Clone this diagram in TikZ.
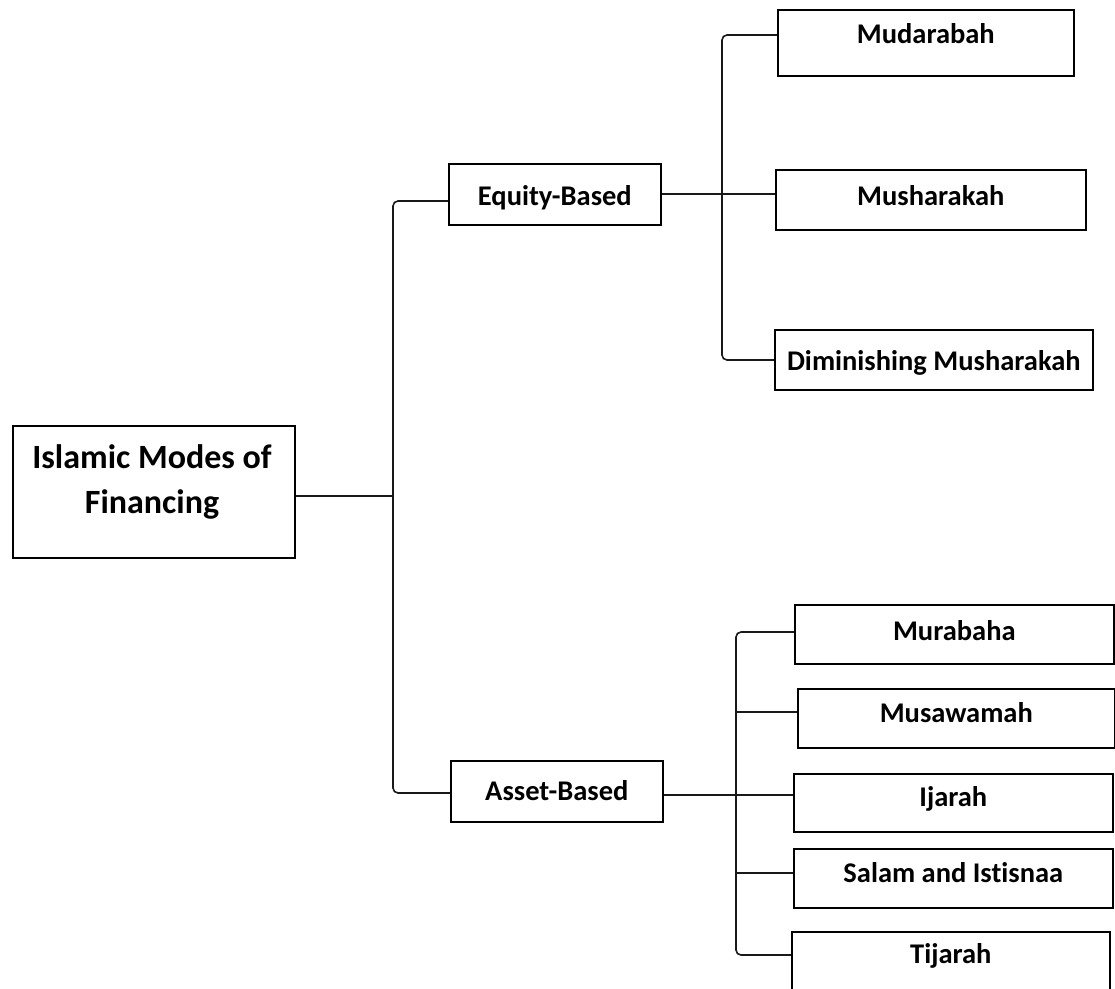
\documentclass[tikz,border=0pt]{standalone}
\usepackage{fontspec}
\setmainfont{Carlito}[Ligatures={NoCommon}]
\begin{document}
\begin{tikzpicture}[x=1pt, y=-1pt,
  box/.style={draw=black, line width=1.6pt, inner sep=0pt, anchor=north west},
  conn/.style={draw=black!90, line width=1.6pt},
  elbowconn/.style={conn, rounded corners=5pt},
  lbl/.style={anchor=base, inner sep=0pt, font=\fontsize{28.5}{34}\selectfont\bfseries},
  title/.style={anchor=center, inner sep=0pt, align=center, font=\fontsize{34}{45}\selectfont\bfseries}]
\useasboundingbox (0,0) rectangle (1115,988);

% boxes
\node[box, minimum width=282pt, minimum height=132pt] (main) at (12,425) {};
\node[box, minimum width=212pt, minimum height=61pt] (eq) at (448,163) {};
\node[box, minimum width=212pt, minimum height=61pt] (as) at (450,760) {};
\node[box, minimum width=296pt, minimum height=66pt] (mud) at (777,9) {};
\node[box, minimum width=310pt, minimum height=60pt] (mush) at (775,169) {};
\node[box, minimum width=318pt, minimum height=60pt] (dim) at (774,329) {};
\node[box, minimum width=319pt, minimum height=59pt] (mur) at (794,604) {};
\node[box, minimum width=317pt, minimum height=59pt] (musa) at (797,688) {};
\node[box, minimum width=319pt, minimum height=58pt] (ij) at (793,773) {};
\node[box, minimum width=319pt, minimum height=59pt] (sal) at (793,848) {};
\node[box, minimum width=318pt, minimum height=70pt] (tij) at (791,931) {};

% labels
\node[title] (mainT) at (152,482) {Islamic Modes of\\Financing};
\node[lbl] (eqT) at (eq.center |- 0,205) {Equity-Based};
\node[lbl] (asT) at (as.center |- 0,800) {Asset-Based};
\node[lbl] (mudT) at (mud.center |- 0,43) {Mudarabah};
\node[lbl] (mushT) at (mush.center |- 0,205) {Musharakah};
\node[lbl] (dimT) at (dim.center |- 0,370) {Diminishing Musharakah};
\node[lbl] (murT) at (mur.center |- 0,640) {Murabaha};
\node[lbl] (musaT) at (musa.center |- 0,722) {Musawamah};
\node[lbl] (ijT) at (ij.center |- 0,806) {Ijarah};
\node[lbl] (salT) at (sal.center |- 0,882) {Salam and Istisnaa};
\node[lbl] (tijT) at (tij.center |- 0,963) {Tijarah};

% junction points on the vertical trunks
\coordinate (t1) at (393,496);
\coordinate (t2) at (722,194);
\coordinate (t3) at (736,795);

\coordinate (eqIn) at (eq.west |- 0,201);
\coordinate (asIn) at (as.west |- 0,793);
\coordinate (mudIn) at (mud.west |- 0,35);
\coordinate (dimIn) at (dim.west |- 0,360);
\coordinate (murIn) at (mur.west |- 0,632);
\coordinate (tijIn) at (tij.west |- 0,955);

% connectors
\draw[conn] (main.east |- t1) -- (t1);
\draw[elbowconn] (eqIn) -| (t1) |- (asIn);

\draw[conn] (eq.east |- t2) -- (mush.west |- t2);
\draw[elbowconn] (mudIn) -| (t2) |- (dimIn);

\draw[conn] (as.east |- t3) -- (ij.west |- t3);
\draw[elbowconn] (murIn) -| (t3) |- (tijIn);
\draw[conn] (musa.west |- 0,712) -- (t3 |- 0,712);
\draw[conn] (sal.west |- 0,873) -- (t3 |- 0,873);
\end{tikzpicture}
\end{document}
